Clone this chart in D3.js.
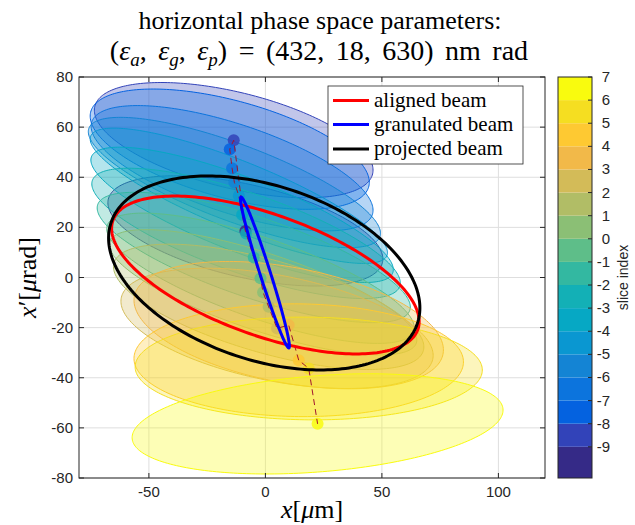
<!DOCTYPE html>
<html>
<head>
<meta charset="utf-8">
<script src="https://cdn.jsdelivr.net/npm/d3@7"></script>
<style>
  body { margin: 0; background: #fff; }
  svg { display: block; }
</style>
</head>
<body>
<svg id="chart" width="635" height="525"></svg>
<script>
// ---- slice data: centroid and rms ellipse of each longitudinal slice ----
const sliceIndex   = [-9, -8, -7, -6, -5, -4, -3, -2, -1, 0, 1, 2, 3, 4, 5, 6, 7];
const sliceColor   = ["#352a87", "#3243b9", "#0462e0", "#0c74dd", "#1484d4", "#0a97d1",
                      "#06a8c4", "#13b0b6", "#33b8a1", "#5ebe89", "#8bbf75", "#b1bd66",
                      "#d3bb58", "#f2b949", "#fec932", "#f5de21", "#f9fb0e"];
const centerX      = [-8.6, -13.6, -15.3, -14.3, -13.3, -11.4, -10.0, -8.3, -5.0, -2.1, -1.0, 1.4, 5.0, 10.0, 14.3, 18.6, 22.4];
const centerXp     = [18.6, 54.8, 51.2, 43.6, 37.9, 32.6, 25.0, 17.6, 8.0, -0.3, -5.9, -11.7, -20.3, -19.0, -33.0, -36.3, -58.4];
const halfWidthX   = [59.0, 59.8, 59.9, 60.5, 62.7, 63.8, 64.9, 66.2, 67.2, 66.0, 66.0, 66.6, 67.0, 66.4, 70.7, 74.5, 79.6];
const halfHeightXp = [22.0, 23.0, 24.0, 25.0, 26.0, 27.0, 27.0, 26.0, 26.0, 26.0, 25.0, 25.0, 24.0, 25.4, 22.5, 20.5, 20.0];
const correlation  = [-0.51, -0.52, -0.55, -0.67, -0.78, -0.84, -0.81, -0.76, -0.76, -0.76, -0.76, -0.64, -0.45, -0.39, -0.03, -0.03, 0.275];

// ---- whole-beam ellipses ----
const beamNames    = ["aligned beam", "granulated beam", "projected beam"];
const beamColors   = ["#ff0000", "#0000ff", "#000000"];
const beamCenterX  = [0.0, -0.2, -0.5];
const beamCenterXp = [1.0, 2.0, 1.8];
const beamHalfX    = [66.0, 10.5, 66.8];
const beamHalfXp   = [31.5, 30.1, 38.7];
const beamCorr     = [-0.59, -0.975, -0.36];
const beamDrawOrder = [0, 2, 1];

// ---- axes ----
const xTicks = [-50, 0, 50, 100];
const yTicks = [-80, -60, -40, -20, 0, 20, 40, 60, 80];
const colorbarTicks = d3.range(-9, 8);

const svg = d3.select("#chart");
const axisColor = "#262626";
const sansFont = "'Liberation Sans', Arial, sans-serif";
const serifFont = "'Liberation Serif', 'Times New Roman', serif";

const plot = { left: 79, right: 545, top: 77, bottom: 478 };
const xScale = d3.scaleLinear().domain([-80, 120]).range([plot.left, plot.right]);
const yScale = d3.scaleLinear().domain([-80, 80]).range([plot.bottom, plot.top]);

// ellipse outline from half extents and x-x' correlation
function ellipsePoints(cx, cy, sx, sy, r, n = 240) {
  const q = Math.sqrt(1 - r * r);
  return d3.range(n).map(i => {
    const t = 2 * Math.PI * i / n;
    return [cx + sx * Math.cos(t), cy + sy * (r * Math.cos(t) + q * Math.sin(t))];
  });
}
const closedLine = d3.line()
  .x(d => xScale(d[0]))
  .y(d => yScale(d[1]))
  .curve(d3.curveLinearClosed);

svg.append("defs").append("clipPath").attr("id", "plotClip")
  .append("rect")
  .attr("x", plot.left).attr("y", plot.top)
  .attr("width", plot.right - plot.left).attr("height", plot.bottom - plot.top);

// grid
const grid = svg.append("g").attr("stroke", "#dedede").attr("stroke-width", 1);
xTicks.forEach(v => grid.append("line")
  .attr("x1", xScale(v)).attr("x2", xScale(v))
  .attr("y1", plot.top).attr("y2", plot.bottom));
yTicks.forEach(v => grid.append("line")
  .attr("x1", plot.left).attr("x2", plot.right)
  .attr("y1", yScale(v)).attr("y2", yScale(v)));

const data = svg.append("g").attr("clip-path", "url(#plotClip)");

// slice ellipses
sliceIndex.forEach((k, i) => {
  data.append("path")
    .attr("d", closedLine(ellipsePoints(centerX[i], centerXp[i], halfWidthX[i], halfHeightXp[i], correlation[i])))
    .attr("fill", sliceColor[i])
    .attr("fill-opacity", 0.3)
    .attr("stroke", sliceColor[i])
    .attr("stroke-width", 1);
});

// slice centroids
sliceIndex.forEach((k, i) => {
  data.append("circle")
    .attr("cx", xScale(centerX[i]))
    .attr("cy", yScale(centerXp[i]))
    .attr("r", 6)
    .attr("fill", sliceColor[i])
    .attr("fill-opacity", 0.85);
});

// centroid path
data.append("path")
  .attr("d", d3.line().x((d, i) => xScale(centerX[i])).y((d, i) => yScale(centerXp[i]))(sliceIndex))
  .attr("fill", "none")
  .attr("stroke", "#a2142f")
  .attr("stroke-width", 1)
  .attr("stroke-dasharray", "6,4");

// whole-beam ellipses
beamDrawOrder.forEach(i => {
  data.append("path")
    .attr("d", closedLine(ellipsePoints(beamCenterX[i], beamCenterXp[i], beamHalfX[i], beamHalfXp[i], beamCorr[i])))
    .attr("fill", "none")
    .attr("stroke", beamColors[i])
    .attr("stroke-width", 3);
});

// axes box and ticks
const axes = svg.append("g").attr("stroke", axisColor).attr("stroke-width", 1);
axes.append("rect")
  .attr("x", plot.left).attr("y", plot.top)
  .attr("width", plot.right - plot.left).attr("height", plot.bottom - plot.top)
  .attr("fill", "none");
const tl = 5;
xTicks.forEach(v => {
  axes.append("line").attr("x1", xScale(v)).attr("x2", xScale(v)).attr("y1", plot.bottom).attr("y2", plot.bottom - tl);
  axes.append("line").attr("x1", xScale(v)).attr("x2", xScale(v)).attr("y1", plot.top).attr("y2", plot.top + tl);
});
yTicks.forEach(v => {
  axes.append("line").attr("x1", plot.left).attr("x2", plot.left + tl).attr("y1", yScale(v)).attr("y2", yScale(v));
  axes.append("line").attr("x1", plot.right).attr("x2", plot.right - tl).attr("y1", yScale(v)).attr("y2", yScale(v));
});

const labels = svg.append("g").attr("font-family", sansFont).attr("font-size", 15).attr("fill", axisColor);
xTicks.forEach(v => labels.append("text")
  .attr("x", xScale(v)).attr("y", plot.bottom + 19)
  .attr("text-anchor", "middle").text(v));
yTicks.forEach(v => labels.append("text")
  .attr("x", plot.left - 6).attr("y", yScale(v) + 5)
  .attr("text-anchor", "end").text(v));

// axis titles
const xLabel = svg.append("text")
  .attr("x", (plot.left + plot.right) / 2).attr("y", 518)
  .attr("text-anchor", "middle")
  .attr("font-family", serifFont).attr("font-size", 26).attr("fill", "#000");
xLabel.append("tspan").attr("font-style", "italic").text("x");
xLabel.append("tspan").text("[");
xLabel.append("tspan").attr("font-style", "italic").text("μ");
xLabel.append("tspan").text("m]");

const yLabel = svg.append("text")
  .attr("transform", `translate(36,${(plot.top + plot.bottom) / 2}) rotate(-90)`)
  .attr("text-anchor", "middle")
  .attr("font-family", serifFont).attr("font-size", 26).attr("fill", "#000");
yLabel.append("tspan").attr("font-style", "italic").text("x");
yLabel.append("tspan").text("′[");
yLabel.append("tspan").attr("font-style", "italic").text("μ");
yLabel.append("tspan").text("rad]");

// title
const title = svg.append("g").attr("font-family", serifFont).attr("font-size", 26).attr("fill", "#000");
title.append("text").attr("x", 320).attr("y", 29).attr("text-anchor", "middle")
  .text("horizontal phase space parameters:");
const line2 = title.append("text").attr("x", 319).attr("y", 60).attr("text-anchor", "middle")
  .attr("font-size", 28).attr("word-spacing", 4.5);
const parts = [
  { t: "(" }, { t: "ε", it: true }, { t: "a", it: true, sub: true },
  { t: ", " }, { t: "ε", it: true }, { t: "g", it: true, sub: true },
  { t: ", " }, { t: "ε", it: true }, { t: "p", it: true, sub: true },
  { t: ") = (432, 18, 630) nm rad" }
];
let shifted = false;
parts.forEach(p => {
  const ts = line2.append("tspan").text(p.t);
  if (p.it) ts.attr("font-style", "italic");
  if (p.sub) { ts.attr("font-size", 19).attr("dy", 6); shifted = true; }
  else if (shifted) { ts.attr("dy", -6); shifted = false; }
});

// legend
const legend = svg.append("g");
legend.append("rect")
  .attr("x", 328).attr("y", 86).attr("width", 195).attr("height", 78)
  .attr("fill", "#fff").attr("stroke", axisColor).attr("stroke-width", 0.8);
const legendRows = [100.5, 124.5, 149];
beamNames.forEach((name, i) => {
  legend.append("line")
    .attr("x1", 333).attr("x2", 369).attr("y1", legendRows[i]).attr("y2", legendRows[i])
    .attr("stroke", beamColors[i]).attr("stroke-width", 3);
  legend.append("text")
    .attr("x", 374).attr("y", legendRows[i] + 6)
    .attr("font-family", serifFont).attr("font-size", 21).attr("fill", "#000")
    .text(name);
});

// colorbar
const cb = { left: 558, right: 592 };
const cbScale = d3.scaleLinear().domain([-10.35, 7]).range([plot.bottom, plot.top]);
const cbg = svg.append("g");
sliceIndex.forEach((k, i) => {
  const lo = i === 0 ? cbScale.domain()[0] : k - 1;
  cbg.append("rect")
    .attr("x", cb.left).attr("y", cbScale(k))
    .attr("width", cb.right - cb.left).attr("height", cbScale(lo) - cbScale(k))
    .attr("fill", sliceColor[i]);
});
cbg.append("rect")
  .attr("x", cb.left).attr("y", plot.top)
  .attr("width", cb.right - cb.left).attr("height", plot.bottom - plot.top)
  .attr("fill", "none").attr("stroke", axisColor).attr("stroke-width", 1);
colorbarTicks.forEach(v => {
  cbg.append("line")
    .attr("x1", cb.right).attr("x2", cb.right - 4)
    .attr("y1", cbScale(v)).attr("y2", cbScale(v))
    .attr("stroke", axisColor);
  cbg.append("text")
    .attr("x", 610).attr("y", cbScale(v) + 5)
    .attr("text-anchor", "end")
    .attr("font-family", sansFont).attr("font-size", 15).attr("fill", axisColor)
    .text(v);
});
svg.append("text")
  .attr("transform", `translate(628,${(plot.top + plot.bottom) / 2}) rotate(-90)`)
  .attr("text-anchor", "middle")
  .attr("font-family", sansFont).attr("font-size", 14).attr("fill", axisColor)
  .text("slice index");
</script>
</body>
</html>
